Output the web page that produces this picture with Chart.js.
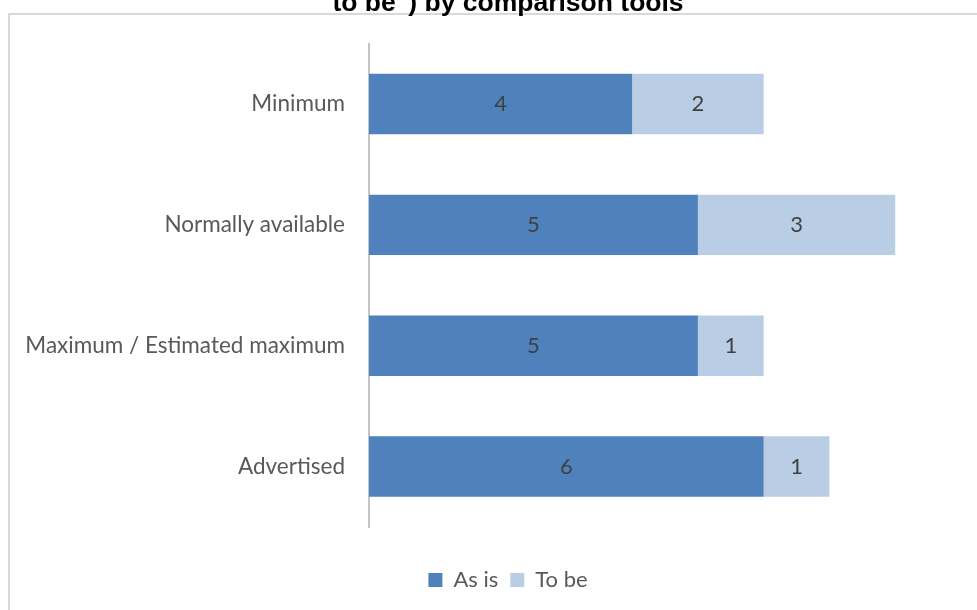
<!DOCTYPE html>
<html>
<head>
<meta charset="utf-8">
<script src="https://cdn.jsdelivr.net/npm/chart.js@4/dist/chart.umd.min.js"></script>
<style>
  html, body { margin: 0; padding: 0; background: #fff; overflow: hidden; }
  body { width: 977px; height: 610px; position: relative; }
  .frame {
    position: absolute; left: 8px; top: 13px;
    width: 1200px; height: 1000px;
    border: 2px solid #d9d9d9; box-sizing: border-box;
  }
  .wrap { position: absolute; left: 0; top: -54px; width: 1016px; height: 655px; }
</style>
</head>
<body>
<div class="frame"></div>
<div class="wrap"><canvas id="container" width="1016" height="655"></canvas></div>
<script>
const titleLines = ['Types of speed information shown ("as is" and "', 'to be") by comparison tools'];
const categories = ["Minimum", "Normally available", "Maximum / Estimated maximum", "Advertised"];
const asIs = [4, 5, 5, 6];
const toBe = [2, 3, 1, 1];
const seriesNames = ["As is", "To be"];

const labelFont = "Lato, 'Noto Sans', sans-serif";

// value labels in the middle of each segment
const segmentLabels = {
  id: "segmentLabels",
  afterDatasetsDraw(chart) {
    const ctx = chart.ctx;
    ctx.save();
    ctx.font = "22px " + labelFont;
    ctx.fillStyle = "#404040";
    ctx.textAlign = "center";
    ctx.textBaseline = "middle";
    chart.data.datasets.forEach((ds, i) => {
      chart.getDatasetMeta(i).data.forEach((bar, j) => {
        const p = bar.getCenterPoint();
        ctx.fillText(String(ds.data[j]), p.x, p.y);
      });
    });
    ctx.restore();
  },
};

const chart = new Chart(document.getElementById("container"), {
  type: "bar",
  data: {
    labels: categories,
    datasets: [
      { label: seriesNames[0], data: asIs, backgroundColor: "#4f81bd" },
      { label: seriesNames[1], data: toBe, backgroundColor: "#b9cde5" },
    ],
  },
  options: {
    indexAxis: "y",
    responsive: false,
    animation: false,
    maintainAspectRatio: false,
    layout: { padding: 0 },
    datasets: { bar: { barPercentage: 1, categoryPercentage: 0.5 } },
    scales: {
      x: {
        stacked: true,
        min: 0,
        max: 9,
        grid: { display: false },
        border: { display: false },
        ticks: { display: false },
        afterFit: (scale) => { scale.height = 30; },
      },
      y: {
        stacked: true,
        grid: { display: false, drawTicks: false },
        border: { display: true, color: "#c4c4c4", width: 2 },
        ticks: { color: "#595959", padding: 24, font: { family: labelFont, size: 22.5 } },
        afterFit: (scale) => { scale.width = 369; },
      },
      // empty right-hand margin axis
      yRight: {
        axis: "y",
        type: "linear",
        position: "right",
        grid: { display: false },
        border: { display: false },
        ticks: { display: false },
        afterFit: (scale) => { scale.width = 55; },
      },
    },
    plugins: {
      title: {
        display: true,
        text: titleLines,
        color: "#000",
        font: { family: "'Liberation Sans', Arial, sans-serif", size: 26.5, weight: "bold", lineHeight: 1.2 },
        padding: { top: 10, bottom: 24 },
      },
      legend: {
        position: "bottom",
        labels: {
          boxWidth: 14,
          boxHeight: 14,
          padding: 12,
          color: "#595959",
          font: { family: labelFont, size: 22 },
        },
      },
      tooltip: { enabled: false },
    },
  },
  plugins: [segmentLabels],
});
</script>
</body>
</html>
